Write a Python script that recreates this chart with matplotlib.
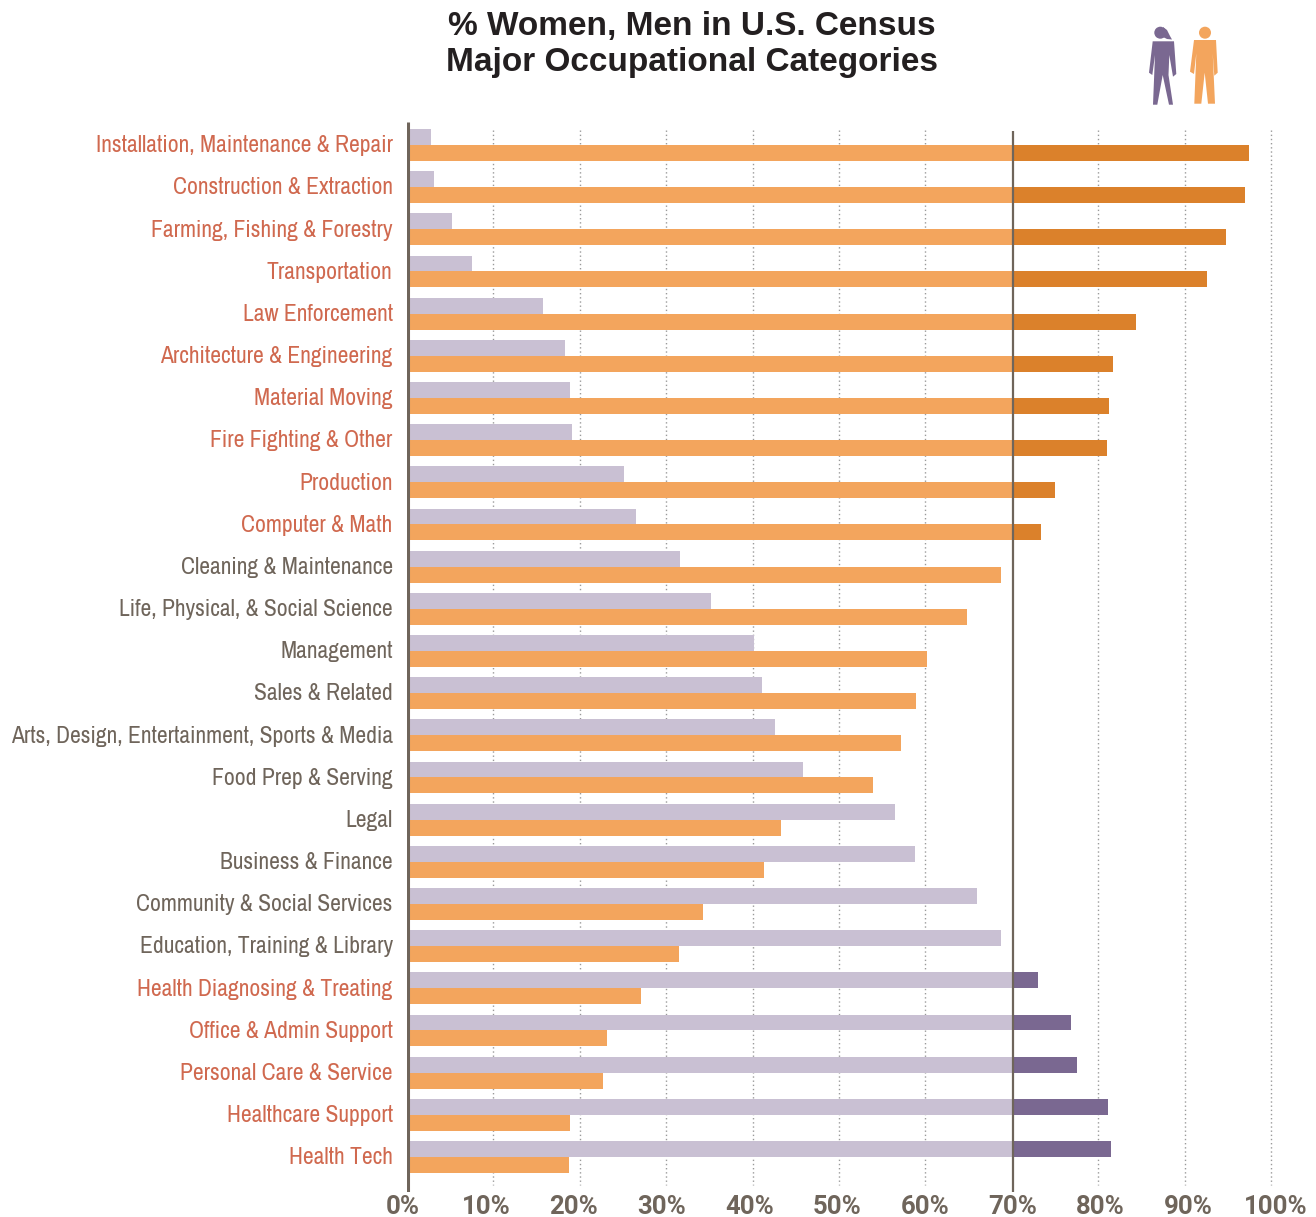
"""
% women and men in census occupational categories
"""

import matplotlib.pyplot as plt
from matplotlib.patches import Circle, Polygon
from matplotlib import font_manager

W, H = 1316, 1217

categories = ['Installation, Maintenance & Repair', 'Construction & Extraction',
	'Farming, Fishing & Forestry', 'Transportation', 'Law Enforcement',
	'Architecture & Engineering', 'Material Moving', 'Fire Fighting & Other',
	'Production', 'Computer & Math', 'Cleaning & Maintenance',
	'Life, Physical, & Social Science', 'Management', 'Sales & Related',
	'Arts, Design, Entertainment, Sports & Media', 'Food Prep & Serving', 'Legal',
	'Business & Finance', 'Community & Social Services', 'Education, Training & Library',
	'Health Diagnosing & Treating', 'Office & Admin Support', 'Personal Care & Service',
	'Healthcare Support', 'Health Tech']

women = [2.8, 3.1, 5.2, 7.5, 15.7, 18.3, 18.9, 19.1, 25.1, 26.5, 31.6, 35.2, 40.2,
	41.1, 42.6, 45.8, 56.5, 58.8, 66.0, 68.7, 73.0, 76.9, 77.5, 81.1, 81.5]
men = [97.4, 97.0, 94.8, 92.6, 84.4, 81.7, 81.2, 81.0, 75.0, 73.4, 68.8, 64.8, 60.2,
	58.9, 57.2, 53.9, 43.3, 41.3, 34.3, 31.5, 27.1, 23.1, 22.7, 18.9, 18.8]

ticks = list(range(0, 101, 10))
tick_labels = ['%d%%' % t for t in ticks]
cutoff = 70
cutoff_line = 70.1  # the dark line sits a touch right of where 70 falls on the grid

# condensed labels if we have something narrow, otherwise smaller plain text
names = {f.name for f in font_manager.fontManager.ttflist}
if 'Archivo Narrow' in names:
	narrow, narrow_size = 'Archivo Narrow', 17
else:
	narrow, narrow_size = 'Liberation Sans', 14.2

fig = plt.figure(figsize=(W/100, H/100), dpi=100)
ax = fig.add_axes([407/W, 1-1192/H, (1271-407)/W, (1192-122)/H])
ax.set_xlim(0, 100)
ax.set_ylim(24.83, -0.545)
for s in ax.spines.values():
	s.set_visible(False)
ax.tick_params(left=False, bottom=False, labelbottom=False, labelleft=False)

# dotted grid sits behind the bars
for t in ticks[1:]:
	if t != cutoff:
		ax.plot([t, t], [-0.36, 24.66], color='#9a9a9a', lw=1, ls=(0, (1, 2)), zorder=1, clip_on=False)

rows = range(len(categories))
bar_h = 0.378
women_y = [r - bar_h/2 for r in rows]
men_y = [r + bar_h/2 for r in rows]
ax.barh(women_y, women, height=bar_h, color='#c9c0d3', zorder=2)
ax.barh(men_y, men, height=bar_h, color='#f3a55d', zorder=2)

# the part past the cutoff gets the darker colour
for y, v in zip(women_y, women):
	if v > cutoff:
		ax.barh(y, v - cutoff_line, left=cutoff_line, height=bar_h, color='#7a6891', zorder=3)
for y, v in zip(men_y, men):
	if v > cutoff:
		ax.barh(y, v - cutoff_line, left=cutoff_line, height=bar_h, color='#db812b', zorder=3)

ax.plot([0.1, 0.1], [-0.545, 24.83], color='#6f655b', lw=2.2, zorder=5, solid_capstyle='butt')
ax.plot([cutoff_line, cutoff_line], [-0.33, 24.83], color='#6f655b', lw=1.6, zorder=5, solid_capstyle='butt')

for r, name, w, m in zip(rows, categories, women, men):
	col = '#d0694f' if max(w, m) > cutoff else '#6f655b'
	ax.annotate(name, (0, r), xytext=(-10.3, -0.6), textcoords='offset points', ha='right',
		va='center', color=col, family=narrow, fontweight='medium', fontsize=narrow_size,
		annotation_clip=False)

# axis labels are spaced a bit wider than the grid in the original
for t, lab in zip(ticks, tick_labels):
	ax.annotate(lab, (max(t*1.016 - 1, -0.45), 24.83), xytext=(0, -10.5), textcoords='offset points',
		ha='center', va='center', color='#6f655b', family='Roboto', fontweight='bold',
		fontsize=18.5, annotation_clip=False)

fig.text(692/W, 1-26/H, '% Women, Men in U.S. Census', ha='center', va='center',
	family='Liberation Sans', fontweight='bold', fontsize=24, color='#231f20')
fig.text(692/W, 1-63/H, 'Major Occupational Categories', ha='center', va='center',
	family='Liberation Sans', fontweight='bold', fontsize=24, color='#231f20')

# little people, top right, drawn in pixel coordinates
ax_icon = fig.add_axes([0, 0, 1, 1], facecolor='none')
ax_icon.set_xlim(0, W)
ax_icon.set_ylim(H, 0)
ax_icon.axis('off')

woman = [(1152.7, 41.3), (1174, 41.3), (1176.3, 74), (1173, 76.7), (1169.3, 55), (1168.5, 75),
	(1173, 104.7), (1169, 104.7), (1162.7, 75), (1157.3, 104.7), (1153, 104.7), (1155, 55),
	(1152.3, 75), (1149, 72.7)]
ponytail = [(1163, 27), (1167, 30), (1170, 36), (1172, 39.5), (1167, 39), (1163, 37)]
man = [(1194, 40), (1216, 40), (1217.7, 72.7), (1214.3, 75.7), (1212.7, 53.3), (1215, 103.7),
	(1208, 103.7), (1204.7, 72.7), (1201.3, 103.7), (1194.3, 103.7), (1196.3, 53.3), (1194, 74),
	(1190, 71.7)]
ax_icon.add_patch(Polygon(woman, closed=True, color='#7a6891', lw=0))
ax_icon.add_patch(Polygon(ponytail, closed=True, color='#7a6891', lw=0))
ax_icon.add_patch(Circle((1160.3, 32.7), 6, color='#7a6891', lw=0))
ax_icon.add_patch(Polygon(man, closed=True, color='#f3a55d', lw=0))
ax_icon.add_patch(Circle((1205, 32.7), 6, color='#f3a55d', lw=0))

fig.savefig('out.png', dpi=100)
